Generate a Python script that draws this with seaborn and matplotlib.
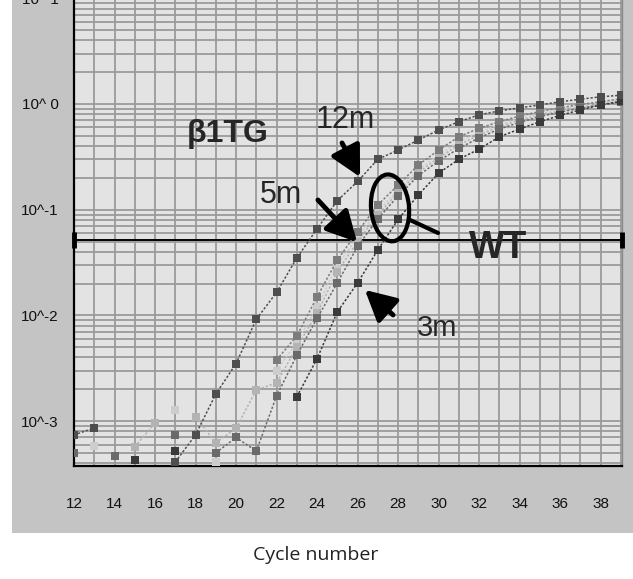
import numpy as np
import pandas as pd
import matplotlib
matplotlib.use("Agg")
import matplotlib.pyplot as plt
import seaborn as sns
from matplotlib import font_manager, transforms
from matplotlib.patches import Ellipse, Rectangle
from matplotlib.ticker import FixedLocator, LogLocator, FuncFormatter, NullFormatter

nan = np.nan

# ---------------- data ----------------
cycles = list(range(12, 40))

series_12m = [7.4e-4, 8.6e-4, nan, nan, nan, 4.1e-4, 7.4e-4, 1.8e-3, 3.5e-3, 9.2e-3,
              0.0165, 0.035, 0.066, 0.122, 0.185, 0.30, 0.367, 0.457, 0.567, 0.68,
              0.79, 0.86, 0.92, 0.98, 1.05, 1.11, 1.17, 1.21]
series_3m = [nan, nan, nan, 4.3e-4, nan, 5.2e-4, nan, nan, nan, nan,
             nan, 1.7e-3, 3.9e-3, 0.0108, 0.0203, 0.0417, 0.081, 0.138, 0.222, 0.30,
             0.375, 0.49, 0.58, 0.68, 0.78, 0.88, 0.98, 1.06]
series_5m = [5.0e-4, nan, 4.7e-4, nan, nan, 7.4e-4, nan, 5.0e-4, 7.0e-4, 5.2e-4,
             1.73e-3, 4.2e-3, 9.4e-3, 0.0203, 0.045, 0.082, 0.135, 0.21, 0.29, 0.38,
             0.48, 0.58, 0.67, 0.76, 0.84, 0.91, 0.98, 1.04]
series_wt1 = [nan, nan, nan, nan, nan, nan, nan, nan, nan, nan,
              3.8e-3, 6.4e-3, 0.0150, 0.0335, 0.062, 0.111, 0.171, 0.265, 0.367, 0.49,
              0.59, 0.68, 0.77, 0.85, 0.92, 0.99, 1.05, 1.12]
series_wt2 = [nan, nan, nan, 5.7e-4, 9.6e-4, nan, 1.1e-3, 6.2e-4, 8.6e-4, 1.97e-3,
              2.3e-3, 5.0e-3, 0.0105, 0.026, 0.050, 0.090, 0.145, 0.225, 0.31, 0.41,
              0.51, 0.61, 0.70, 0.78, 0.86, 0.93, 0.99, 1.05]
series_wt3 = [nan, 5.8e-4, nan, nan, nan, 1.28e-3, nan, 4.1e-4, nan, nan,
              3.0e-3, 5.6e-3, 0.012, 0.030, 0.055, 0.097, 0.154, 0.238, 0.33, 0.44,
              0.54, 0.64, 0.73, 0.81, 0.89, 0.96, 1.02, 1.08]

series_names = ["WT3", "WT2", "WT1", "5m", "3m", "12m"]
series_values = [series_wt3, series_wt2, series_wt1, series_5m, series_3m, series_12m]
series_colors = ["#cdcdcd", "#b3b3b3", "#7c7c7c", "#6a6a6a", "#3a3a3a", "#4e4e4e"]

threshold = 0.0517
y_major = [1e-3, 1e-2, 1e-1, 1e0, 1e1]

# ---------------- build long table with contiguous segments ----------------
rows = []
seg = 0
for name, vals in zip(series_names, series_values):
    seg += 1
    for c, v in zip(cycles, vals):
        if np.isnan(v):
            seg += 1
            continue
        rows.append({"series": name, "cycle": c, "value": v, "seg": f"{name}_{seg}"})
df = pd.DataFrame(rows)

# ---------------- style ----------------
sns.set_theme(style="white")
names = {f.name for f in font_manager.fontManager.ttflist}
narrow = "Liberation Sans Narrow" if "Liberation Sans Narrow" in names else "Liberation Sans"
plt.rcParams["font.family"] = [narrow, "DejaVu Sans"]

fig = plt.figure(figsize=(6.33, 5.79), dpi=100)
fig.patch.set_facecolor("white")
fig.add_artist(Rectangle((12 / 633, 46 / 579), 1 - 12 / 633, 1 - 46 / 579,
                         transform=fig.transFigure, facecolor="#c4c4c4",
                         edgecolor="none", zorder=-5))

ax = fig.add_axes([74 / 633, 113 / 579, 548 / 633, 467.7 / 579])
ax.set_facecolor("#e3e3e3")
ax.set_axisbelow(True)

sns.lineplot(data=df, x="cycle", y="value", hue="series", units="seg",
             estimator=None, hue_order=series_names,
             palette=dict(zip(series_names, series_colors)),
             marker="s", markersize=5.5, markeredgewidth=0,
             linestyle=(0, (1.5, 1.2)), linewidth=1.1,
             legend=False, ax=ax, zorder=4)

ax.set_yscale("log")
ax.set_xlim(12, 39.05)
ax.set_ylim(10 ** -3.425, 10 ** 1.0)

# ticks
ax.xaxis.set_major_locator(FixedLocator(list(range(12, 40, 2))))
ax.xaxis.set_minor_locator(FixedLocator(list(range(12, 40))))
ax.yaxis.set_major_locator(FixedLocator(y_major))
ax.yaxis.set_minor_locator(LogLocator(base=10, subs=range(2, 10)))
ax.yaxis.set_minor_formatter(NullFormatter())


def yfmt(v, pos):
    e = int(round(np.log10(v)))
    return f"10^ {e}" if e >= 0 else f"10^{e}"


ax.yaxis.set_major_formatter(FuncFormatter(yfmt))
ax.tick_params(axis="x", which="both", direction="out", length=8.5, width=1.5,
               color="black", pad=14, labelsize=11, labelcolor="#111111")
ax.tick_params(axis="y", which="both", direction="out", length=5, width=1.5,
               color="black", pad=6, labelsize=11, labelcolor="#111111")
ax.set_xlabel("")
ax.set_ylabel("")

ax.grid(which="both", axis="both", color="#9a9a9a", linewidth=1.3)

for s in ["left", "bottom"]:
    ax.spines[s].set_color("black")
    ax.spines[s].set_linewidth(1.6)
ax.spines["top"].set_visible(False)
ax.spines["right"].set_color("#8a8a8a")
ax.spines["right"].set_linewidth(1.0)

# threshold line with end caps
ax.axhline(threshold, color="black", linewidth=1.4, zorder=3)
ax.plot([12, 39.05], [threshold, threshold], linestyle="none", marker="|",
        markersize=12, markeredgewidth=3.5, color="black", clip_on=False, zorder=6)

# annotations
ax.text(19.6, 0.52, "β1TG", fontsize=23, fontweight="bold",
        family=["Liberation Sans", "DejaVu Sans"], ha="center", va="center", zorder=7)
ax.text(25.38, 0.706, "12m", fontsize=22, family=[narrow, "DejaVu Sans"],
        ha="center", va="center", zorder=7)
ax.text(22.22, 0.138, "5m", fontsize=22, family=[narrow, "DejaVu Sans"],
        ha="center", va="center", zorder=7)
ax.text(29.92, 7.6e-3, "3m", fontsize=21, family=[narrow, "DejaVu Sans"],
        ha="center", va="center", zorder=7)
ax.text(32.93, 0.0434, "WT", fontsize=27, fontweight="bold",
        family=[narrow, "DejaVu Sans"], ha="center", va="center", zorder=7)

arrow_kw = dict(arrowstyle="-|>,head_length=0.8,head_width=0.42", lw=3.5,
                color="black", mutation_scale=23, shrinkA=0, shrinkB=0)
ax.annotate("", xy=(26.12, 0.204), xytext=(25.23, 0.428), arrowprops=arrow_kw, zorder=8)
ax.annotate("", xy=(25.97, 0.0494), xytext=(24.04, 0.1236), arrowprops=arrow_kw, zorder=8)
ax.annotate("", xy=(26.36, 0.0174), xytext=(27.75, 0.0101), arrowprops=arrow_kw, zorder=8)
ax.annotate("", xy=(29.97, 0.0602), xytext=(28.58, 0.080),
            arrowprops=dict(arrowstyle="-", lw=3, color="black", shrinkA=0, shrinkB=0),
            zorder=8)

etrans = fig.dpi_scale_trans + transforms.ScaledTranslation(27.6, 0.104, ax.transData)
ax.add_patch(Ellipse((0, 0), 0.38, 0.67, angle=5, fill=False, lw=3,
                     edgecolor="black", transform=etrans, zorder=8, clip_on=False))

fig.text(316 / 633, 1 - 555 / 579, "Cycle number", ha="center", va="center",
         fontsize=14, family=["Open Sans", "DejaVu Sans"], color="#222222")

fig.savefig("out.png", dpi=100)
